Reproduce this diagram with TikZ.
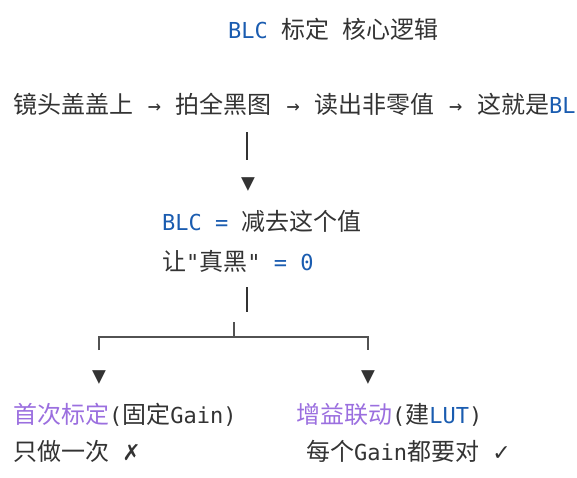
\documentclass[tikz,border=0pt]{standalone}
\usepackage{fontspec}
\setmonofont{DejaVu Sans Mono}
\newfontfamily\cjk[Scale=1.09]{Noto Sans CJK SC}
\newfontfamily\symf{DejaVu Sans}
\usetikzlibrary{positioning}
\definecolor{txt}{HTML}{333333}
\definecolor{kw}{HTML}{1A5CB0}
\definecolor{lbl}{HTML}{9B6FDF}
\newcommand{\zh}[1]{{\cjk #1}}
\newcommand{\flowto}{\kern1.5pt\ →\ \kern1.5pt}

\begin{document}
\begin{tikzpicture}[x=1pt,y=-1pt,
  line/.style={anchor=base west,inner sep=0pt,text=txt,font=\fontsize{22}{26}\ttfamily},
  bar/.style={draw=txt,line width=1.6pt},
  branch/.style={draw=txt!85,line width=1.2pt},
  tip/.style={inner sep=0pt,text=txt,font=\fontsize{23}{23}\ttfamily}]
\useasboundingbox (0,0) rectangle (577,477);
\node(title)[line] at (228,38) {\textcolor{kw}{BLC} \zh{标定} \zh{核心逻辑}};
\node(flow)[line] at (13,113) {\zh{镜头盖盖上}\flowto\zh{拍全黑图}\flowto\zh{读出非零值}\flowto\zh{这就是}\textcolor{kw}{BL}};
\coordinate (b1a) at (247,132); \coordinate (b1b) at (247,160);
\draw [bar] (b1a) -- (b1b);
\node(t1)[tip] at (248,185) {▼};
\node(blc)[line] at (162,230) {\textcolor{kw}{BLC =} \zh{减去这个值}};
\node(zero)[line] at (162,270) {\zh{让}"\zh{真黑}" \textcolor{kw}{= 0}};
\coordinate (b2a) at (247,287); \coordinate (b2b) at (247,312);
\draw [bar] (b2a) -- (b2b);
% fork into two cases
\coordinate (up) at (234,322); \coordinate (fork) at (234,337);
\coordinate (lft) at (99,350); \coordinate (rgt) at (368,350);
\draw [branch] (up) -- (fork);
\draw [branch] (lft) -- (lft |- fork) -- (rgt |- fork) -- (rgt);
\node(t2)[tip] at (99,378) {▼};
\node(t3)[tip] at (368,378) {▼};
\node(first)[line] at (13,423) {\textcolor{lbl}{\zh{首次标定}}(\zh{固定}Gain)};
\node(gain)[line] at (296,423) {\textcolor{lbl}{\zh{增益联动}}(\zh{建}\textcolor{kw}{LUT})};
\node(once)[line] at (13,460) {\zh{只做一次} {\symf ✗}};
\node(each)[line] at (306,460) {\zh{每个}Gain\zh{都要对} {\symf ✓}};
\end{tikzpicture}
\end{document}
